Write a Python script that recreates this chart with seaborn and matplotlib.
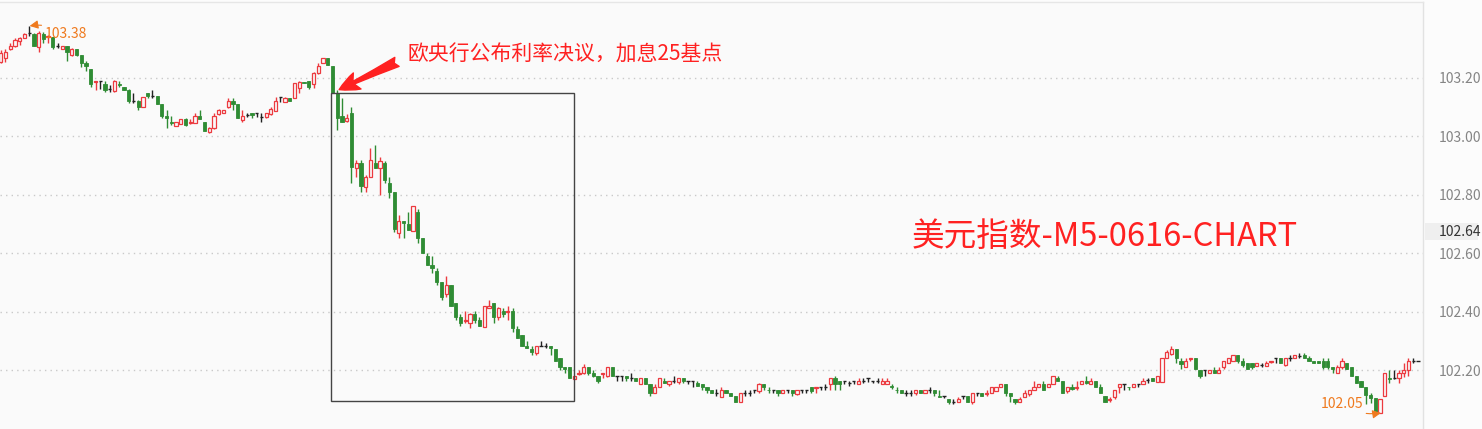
import numpy as np
import matplotlib
matplotlib.use("Agg")
import matplotlib.pyplot as plt
import seaborn as sns
from matplotlib.patches import Rectangle

# ---------------- data (USD index, 5-minute candles) ----------------
opens = [
103.255,103.268,103.299,103.309,103.327,103.337,103.354,103.351,103.306,103.351,
103.340,103.340,103.309,103.299,103.309,103.279,103.299,103.279,103.251,103.231,
103.187,103.190,103.179,103.162,103.155,103.179,103.169,103.159,103.121,103.121,
103.101,103.149,103.138,103.138,103.111,103.070,103.049,103.036,103.042,103.059,
103.047,103.046,103.070,103.049,103.015,103.029,103.077,103.080,103.101,103.121,
103.111,103.056,103.073,103.080,103.080,103.066,103.066,103.077,103.087,103.135,
103.118,103.131,103.131,103.166,103.186,103.190,103.179,103.217,103.251,103.268,
103.241,103.149,103.070,103.053,103.080,102.892,102.909,102.827,102.861,102.909,
102.892,102.909,102.840,102.809,102.669,102.710,102.700,102.676,102.741,102.652,
102.590,102.560,102.539,102.501,102.460,102.491,102.429,102.381,102.368,102.361,
102.392,102.371,102.347,102.412,102.429,102.381,102.402,102.400,102.402,102.340,
102.320,102.282,102.272,102.258,102.282,102.282,102.282,102.272,102.241,102.210,
102.210,102.169,102.188,102.190,102.210,102.190,102.179,102.187,102.179,102.210,
102.179,102.179,102.179,102.172,102.172,102.152,102.172,102.152,102.121,102.142,
102.162,102.152,102.162,102.159,102.172,102.162,102.162,102.155,102.152,102.142,
102.131,102.121,102.107,102.131,102.121,102.111,102.090,102.121,102.121,102.131,
102.128,102.152,102.132,102.131,102.131,102.121,102.131,102.131,102.118,102.131,
102.131,102.142,102.140,102.142,102.142,102.152,102.172,102.162,102.162,102.155,
102.162,102.152,102.162,102.172,102.162,102.162,102.152,102.152,102.145,102.132,
102.131,102.121,102.121,102.121,102.131,102.121,102.131,102.131,102.111,102.111,
102.101,102.090,102.090,102.111,102.111,102.090,102.121,102.121,102.119,102.121,
102.128,102.142,102.152,102.121,102.101,102.090,102.107,102.118,102.131,102.142,
102.152,102.142,102.152,102.172,102.162,102.128,102.142,102.140,102.152,102.162,
102.152,102.162,102.142,102.111,102.099,102.107,102.142,102.152,102.143,102.142,
102.152,102.152,102.165,102.172,102.159,102.159,102.241,102.254,102.272,102.231,
102.210,102.239,102.241,102.200,102.200,102.190,102.200,102.190,102.210,102.224,
102.231,102.251,102.231,102.224,102.224,102.214,102.217,102.214,102.229,102.241,
102.241,102.217,102.241,102.241,102.248,102.251,102.241,102.231,102.231,102.231,
102.231,102.210,102.190,102.210,102.224,102.210,102.179,102.162,102.142,102.114,
102.104,102.053,102.111,102.172,102.172,102.172,102.190,102.200,102.231,102.231,
]
highs = [
103.296,103.299,103.320,103.337,103.340,103.354,103.378,103.354,103.361,103.358,
103.347,103.340,103.320,103.309,103.309,103.303,103.299,103.279,103.258,103.231,
103.190,103.190,103.190,103.176,103.193,103.190,103.169,103.162,103.149,103.125,
103.135,103.149,103.159,103.138,103.111,103.090,103.070,103.049,103.059,103.063,
103.059,103.080,103.090,103.049,103.032,103.080,103.094,103.090,103.131,103.131,
103.111,103.090,103.080,103.080,103.080,103.080,103.080,103.101,103.135,103.135,
103.135,103.131,103.183,103.190,103.186,103.190,103.220,103.251,103.268,103.268,
103.241,103.159,103.131,103.077,103.101,102.919,102.919,102.868,102.960,102.970,
102.929,102.916,102.861,102.809,102.731,102.710,102.741,102.761,102.751,102.652,
102.601,102.590,102.549,102.501,102.522,102.491,102.429,102.392,102.402,102.395,
102.402,102.381,102.419,102.440,102.429,102.416,102.412,102.419,102.412,102.351,
102.320,102.299,102.282,102.282,102.299,102.292,102.282,102.272,102.241,102.210,
102.210,102.179,102.200,102.220,102.210,102.200,102.179,102.190,102.210,102.210,
102.179,102.179,102.179,102.190,102.172,102.172,102.172,102.152,102.152,102.172,
102.172,102.162,102.179,102.172,102.172,102.162,102.162,102.162,102.152,102.142,
102.131,102.135,102.142,102.131,102.121,102.111,102.121,102.131,102.131,102.131,
102.155,102.152,102.142,102.131,102.131,102.131,102.131,102.131,102.131,102.131,
102.131,102.142,102.142,102.142,102.152,102.172,102.179,102.162,102.162,102.162,
102.162,102.172,102.172,102.172,102.162,102.172,102.172,102.172,102.152,102.142,
102.131,102.131,102.131,102.131,102.131,102.131,102.142,102.131,102.131,102.111,
102.101,102.101,102.107,102.111,102.111,102.121,102.121,102.121,102.131,102.142,
102.142,102.152,102.152,102.121,102.101,102.107,102.131,102.131,102.162,102.152,
102.162,102.152,102.179,102.179,102.162,102.142,102.152,102.162,102.162,102.179,
102.172,102.162,102.152,102.111,102.107,102.131,102.152,102.152,102.143,102.152,
102.152,102.172,102.172,102.172,102.179,102.241,102.268,102.282,102.272,102.241,
102.241,102.241,102.241,102.200,102.200,102.200,102.210,102.210,102.231,102.241,
102.251,102.251,102.241,102.224,102.224,102.224,102.224,102.231,102.231,102.241,
102.241,102.241,102.251,102.251,102.258,102.258,102.248,102.231,102.231,102.241,
102.241,102.210,102.217,102.241,102.224,102.210,102.179,102.162,102.142,102.121,
102.104,102.101,102.190,102.200,102.200,102.200,102.224,102.241,102.241,102.231,
]
lows = [
103.251,103.255,103.296,103.306,103.313,103.337,103.344,103.309,103.289,103.320,
103.320,103.299,103.303,103.299,103.258,103.275,103.275,103.238,103.224,103.169,
103.159,103.162,103.152,103.152,103.152,103.169,103.159,103.114,103.114,103.090,
103.101,103.131,103.131,103.111,103.063,103.029,103.039,103.036,103.042,103.036,
103.042,103.046,103.059,103.018,103.012,103.025,103.073,103.080,103.097,103.090,
103.063,103.049,103.066,103.063,103.066,103.049,103.063,103.073,103.087,103.118,
103.118,103.121,103.131,103.149,103.183,103.162,103.166,103.214,103.251,103.244,
103.149,103.022,103.049,103.049,102.840,102.861,102.809,102.809,102.861,102.892,
102.799,102.840,102.789,102.672,102.652,102.652,102.679,102.676,102.635,102.601,
102.560,102.532,102.491,102.440,102.450,102.419,102.371,102.351,102.361,102.344,
102.361,102.351,102.347,102.412,102.361,102.371,102.381,102.371,102.330,102.309,
102.282,102.275,102.251,102.251,102.282,102.275,102.251,102.231,102.200,102.190,
102.172,102.169,102.183,102.186,102.183,102.176,102.155,102.172,102.176,102.179,
102.162,102.162,102.162,102.162,102.162,102.152,102.152,102.111,102.121,102.142,
102.155,102.145,102.155,102.152,102.155,102.152,102.142,102.145,102.131,102.121,
102.121,102.111,102.107,102.121,102.111,102.090,102.090,102.111,102.111,102.121,
102.121,102.131,102.121,102.121,102.111,102.121,102.121,102.111,102.114,102.121,
102.121,102.121,102.121,102.131,102.131,102.131,102.131,102.131,102.152,102.145,
102.152,102.152,102.155,102.159,102.155,102.155,102.152,102.152,102.135,102.121,
102.121,102.111,102.111,102.114,102.121,102.121,102.121,102.111,102.107,102.104,
102.083,102.083,102.090,102.101,102.090,102.083,102.111,102.111,102.111,102.121,
102.128,102.142,102.111,102.090,102.083,102.090,102.107,102.111,102.131,102.142,
102.131,102.142,102.152,102.162,102.121,102.121,102.131,102.131,102.152,102.152,
102.152,102.142,102.121,102.090,102.090,102.101,102.121,102.131,102.131,102.142,
102.142,102.152,102.155,102.162,102.159,102.159,102.241,102.251,102.224,102.203,
102.210,102.231,102.203,102.172,102.179,102.190,102.190,102.190,102.203,102.224,
102.231,102.224,102.210,102.203,102.203,102.214,102.210,102.214,102.224,102.224,
102.224,102.214,102.231,102.241,102.241,102.241,102.231,102.224,102.224,102.203,
102.203,102.190,102.190,102.203,102.203,102.179,102.155,102.142,102.083,102.087,
102.053,102.053,102.111,102.155,102.169,102.155,102.176,102.179,102.224,102.231,
]
closes = [
103.285,103.289,103.309,103.330,103.337,103.351,103.354,103.309,103.354,103.333,
103.344,103.306,103.309,103.309,103.289,103.299,103.279,103.251,103.241,103.179,
103.190,103.190,103.159,103.162,103.190,103.176,103.159,103.121,103.121,103.101,
103.135,103.138,103.138,103.111,103.070,103.063,103.046,103.049,103.059,103.039,
103.050,103.070,103.059,103.018,103.029,103.070,103.090,103.090,103.121,103.111,
103.063,103.070,103.073,103.073,103.080,103.066,103.080,103.094,103.121,103.135,
103.131,103.121,103.183,103.186,103.183,103.169,103.217,103.241,103.268,103.244,
103.149,103.063,103.049,103.063,102.895,102.909,102.830,102.861,102.919,102.892,
102.916,102.851,102.809,102.683,102.710,102.703,102.679,102.761,102.652,102.601,
102.560,102.549,102.501,102.450,102.491,102.419,102.381,102.361,102.371,102.392,
102.371,102.351,102.419,102.419,102.381,102.412,102.392,102.402,102.344,102.309,
102.282,102.275,102.261,102.282,102.282,102.282,102.275,102.231,102.210,102.203,
102.172,102.179,102.190,102.210,102.190,102.179,102.162,102.190,102.210,102.179,
102.179,102.179,102.172,102.172,102.162,102.172,102.152,102.121,102.142,102.172,
102.155,102.162,102.162,102.172,102.162,102.162,102.162,102.145,102.142,102.131,
102.121,102.121,102.131,102.121,102.111,102.090,102.121,102.121,102.121,102.131,
102.152,102.142,102.131,102.131,102.121,102.131,102.131,102.121,102.131,102.131,
102.131,102.128,102.142,102.142,102.142,102.172,102.152,102.152,102.162,102.155,
102.162,102.162,102.162,102.172,102.162,102.162,102.162,102.162,102.142,102.131,
102.121,102.121,102.121,102.131,102.121,102.131,102.131,102.121,102.108,102.111,
102.090,102.090,102.101,102.111,102.090,102.121,102.121,102.111,102.121,102.142,
102.142,102.152,102.121,102.111,102.090,102.101,102.121,102.131,102.142,102.152,
102.131,102.152,102.179,102.162,102.121,102.142,102.135,102.142,102.162,102.155,
102.162,102.142,102.121,102.090,102.101,102.131,102.152,102.152,102.141,102.152,
102.152,102.162,102.165,102.162,102.179,102.241,102.261,102.272,102.241,102.220,
102.231,102.241,102.203,102.179,102.200,102.200,102.190,102.200,102.231,102.241,
102.251,102.231,102.217,102.203,102.210,102.224,102.217,102.224,102.231,102.241,
102.224,102.241,102.241,102.251,102.248,102.241,102.231,102.224,102.224,102.210,
102.210,102.203,102.210,102.231,102.203,102.179,102.155,102.142,102.114,102.104,
102.053,102.101,102.190,102.169,102.172,102.190,102.200,102.231,102.231,102.231,
]
ytick_values = [102.20, 102.40, 102.60, 102.80, 103.00, 103.20]
high_label = "103.38"
low_label = "102.05"
last_label = "102.64"
event_text = "欧央行公布利率决议，加息25基点"
title_text = "美元指数-M5-0616-CHART"

# ---------------- style ----------------
sns.set_theme(style="white")
plt.rcParams["font.family"] = ["Noto Sans CJK SC", "DejaVu Sans"]

RED = "#ec3a3f"
GREEN = "#2f8c34"
BLACK = "#222222"
BG = "#fafafa"
ANNOT_RED = "#ff2121"
ORANGE = "#ef7a1e"

W, H = 1482, 429
fig = plt.figure(figsize=(W / 100, H / 100), dpi=100, facecolor="#fcfcfc")
ax = fig.add_axes([0, 0, 1423 / W, 427 / H])
ax.set_facecolor(BG)

o = np.array(opens); h = np.array(highs); l = np.array(lows); c = np.array(closes)
x = np.arange(len(o))
up = c > o + 1e-9
dn = c < o - 1e-9
flat = ~(up | dn)
cols = np.where(up, RED, np.where(dn, GREEN, BLACK))

w = 0.68
ax.vlines(x, l, h, colors=cols, linewidth=1.0, zorder=2)
bottom = np.minimum(o, c)
height = np.abs(c - o)
ax.bar(x[up], height[up], bottom=bottom[up], width=w, facecolor=BG,
       edgecolor=RED, linewidth=0.9, zorder=3)
ax.bar(x[dn], height[dn], bottom=bottom[dn], width=w, facecolor=GREEN,
       edgecolor=GREEN, linewidth=0.6, zorder=3)
ax.hlines(o[flat], x[flat] - w / 2, x[flat] + w / 2, colors=BLACK,
          linewidth=1.0, zorder=3)

ax.set_xlim(-0.15, 300.07)
ax.set_ylim(101.998, 103.460)

# axes styling
ax.yaxis.tick_right()
ax.set_yticks(ytick_values)
ax.set_yticklabels([f"{v:.2f}" for v in ytick_values])
ax.tick_params(axis="y", length=0, pad=11, labelsize=10, labelcolor="#858585")
ax.set_xticks([])
ax.yaxis.grid(True, color="#c9c9c9", linestyle=(0, (1, 3)), linewidth=1.0)
ax.xaxis.grid(False)
for s in ["left", "bottom"]:
    ax.spines[s].set_visible(False)
ax.spines["top"].set_color("#e6e6e6")
ax.spines["right"].set_color("#e2e2e2")
ax.spines["top"].set_linewidth(1)
ax.spines["right"].set_linewidth(1)

# highlight box around the ECB move
ax.add_patch(Rectangle((69.68, 102.094), 121.0 - 69.68, 103.149 - 102.094,
                       fill=False, edgecolor="#444444", linewidth=1.0, zorder=4))

# event annotation with red arrow
ax.annotate("", xy=(71.4, 103.160), xytext=(83.6, 103.255),
            arrowprops=dict(arrowstyle="fancy,head_length=0.9,head_width=0.8,tail_width=0.45",
                            color=ANNOT_RED, mutation_scale=16, shrinkA=0, shrinkB=0),
            zorder=5)
ax.text(85.9, 103.279, event_text, color=ANNOT_RED, fontsize=15,
        ha="left", va="center", zorder=5)

# big title
ax.text(233.0, 102.655, title_text, color=ANNOT_RED, fontsize=23.5,
        ha="center", va="center", zorder=5)

# high / low markers
hi_i = int(np.argmax(h))
lo_i = int(np.argmin(l))
ax.annotate(high_label, xy=(hi_i + 0.1, h[hi_i]), xytext=(9.3, 103.351),
            color=ORANGE, fontsize=10, ha="left", va="center",
            arrowprops=dict(arrowstyle="-|>,head_length=0.5,head_width=0.25",
                            color=ORANGE, lw=0.8, shrinkA=0, shrinkB=0,
                            connectionstyle="arc3,rad=0.2"), zorder=5)
ax.annotate(low_label, xy=(lo_i + 1.2, l[lo_i]), xytext=(287.4, 102.083),
            color=ORANGE, fontsize=10, ha="right", va="center",
            arrowprops=dict(arrowstyle="-|>,head_length=0.5,head_width=0.25",
                            color=ORANGE, lw=0.8, shrinkA=0, shrinkB=0,
                            connectionstyle="arc3,rad=0.2"), zorder=5)

# current price tag on the right axis
fig.patches.append(Rectangle((1425 / W, 1 - 240 / H), 53 / W, 17 / H,
                             transform=fig.transFigure, facecolor="#efefef",
                             edgecolor="none", zorder=1))
fig.text(1439 / W, 1 - 231.5 / H, last_label, color="#333333", fontsize=10,
         ha="left", va="center", zorder=2)

fig.savefig("out.png", dpi=100, facecolor=fig.get_facecolor())
